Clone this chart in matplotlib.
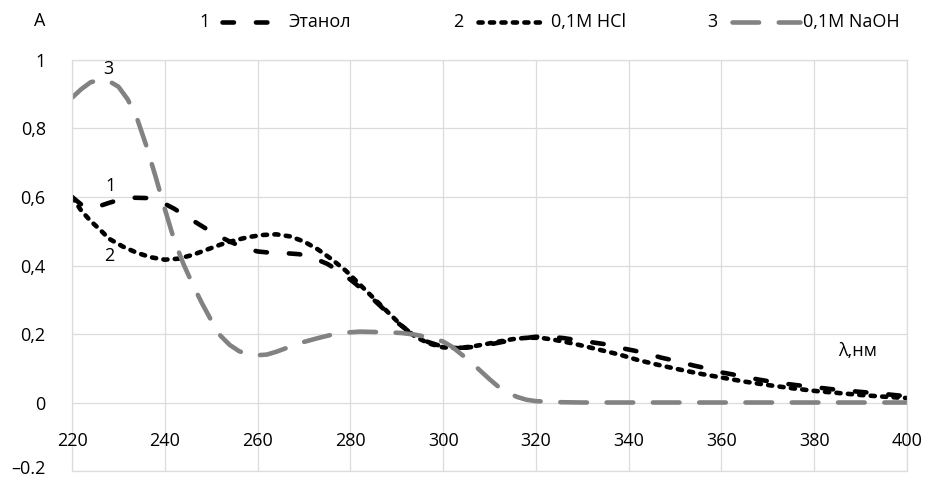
import matplotlib
matplotlib.use("Agg")
import matplotlib.pyplot as plt
import matplotlib.transforms as mtransforms
from matplotlib.lines import Line2D

plt.rcParams["font.family"] = ["Open Sans", "DejaVu Sans"]

# --- data ---
wl_ethanol = [220, 222, 224, 226, 228, 230, 233, 236, 239, 242, 245, 248, 251,
              254, 257, 260, 263, 266, 269, 272, 275, 278, 281, 284, 287, 290,
              293, 296, 299, 302, 305, 308, 311, 314, 317, 320, 323, 326, 329,
              332, 335, 338, 341, 344, 347, 350, 354, 357, 360, 364, 368, 372,
              376, 380, 385, 390, 395, 400]
a_ethanol = [0.600, 0.578, 0.570, 0.574, 0.583, 0.591, 0.598, 0.597, 0.587,
             0.566, 0.540, 0.515, 0.490, 0.470, 0.452, 0.441, 0.437, 0.436,
             0.433, 0.422, 0.405, 0.380, 0.348, 0.313, 0.275, 0.235, 0.203,
             0.180, 0.167, 0.160, 0.160, 0.165, 0.172, 0.180, 0.187, 0.192,
             0.192, 0.188, 0.182, 0.176, 0.170, 0.160, 0.152, 0.143, 0.131,
             0.122, 0.108, 0.099, 0.088, 0.078, 0.067, 0.058, 0.051, 0.045,
             0.037, 0.031, 0.025, 0.018]

wl_hcl = [220, 222, 224, 226, 228, 231, 234, 237, 240, 243, 246, 249, 252, 255,
          258, 261, 264, 267, 270, 273, 276, 279, 282, 285, 288, 291, 294, 297,
          300, 303, 306, 309, 312, 315, 318, 321, 324, 327, 330, 334, 338, 342,
          346, 350, 355, 360, 365, 370, 375, 380, 385, 390, 395, 400]
a_hcl = [0.600, 0.560, 0.530, 0.505, 0.478, 0.455, 0.437, 0.424, 0.417, 0.420,
         0.431, 0.446, 0.461, 0.473, 0.483, 0.489, 0.491, 0.485, 0.470, 0.447,
         0.418, 0.385, 0.345, 0.305, 0.265, 0.225, 0.192, 0.172, 0.161, 0.159,
         0.163, 0.170, 0.178, 0.185, 0.189, 0.189, 0.183, 0.175, 0.166, 0.153,
         0.140, 0.124, 0.111, 0.099, 0.085, 0.073, 0.061, 0.051, 0.042, 0.034,
         0.028, 0.022, 0.017, 0.013]

wl_naoh = [220, 222, 224, 226, 228, 230, 232, 234, 236, 238, 240, 242, 244, 246,
           248, 250, 252, 254, 256, 258, 260, 262, 264, 266, 268, 270, 273, 276,
           279, 282, 285, 288, 291, 294, 297, 300, 302, 304, 306, 308, 310, 312,
           314, 316, 318, 320, 325, 330, 340, 350, 360, 370, 380, 390, 400]
a_naoh = [0.890, 0.915, 0.935, 0.942, 0.938, 0.922, 0.885, 0.830, 0.750, 0.660,
          0.565, 0.475, 0.405, 0.345, 0.290, 0.240, 0.195, 0.168, 0.150, 0.140,
          0.138, 0.140, 0.148, 0.158, 0.167, 0.177, 0.188, 0.198, 0.204, 0.207,
          0.206, 0.205, 0.203, 0.198, 0.190, 0.178, 0.162, 0.140, 0.118, 0.093,
          0.068, 0.045, 0.028, 0.016, 0.008, 0.004, 0.001, 0.0, 0.0, 0.0, 0.0,
          0.0, 0.0, 0.0, 0.0]

x_ticks = [220, 240, 260, 280, 300, 320, 340, 360, 380, 400]
y_ticks = [-0.2, 0, 0.2, 0.4, 0.6, 0.8, 1.0]
y_labels = ["\u20130.2", "0", "0,2", "0,4", "0,6", "0,8", "1"]
legend_nums = ["1", "2", "3"]
legend_names = ["Этанол", "0,1M HCl", "0,1M NaOH"]

# --- styles ---
GRID = "#dcdcdc"
GRAY = "#828282"
LW = 3.3
styles = [
    dict(color="black", dashes=(2.5, 4.8)),
    dict(color="black", dashes=(0.9, 1.6)),
    dict(color=GRAY, dashes=(5.8, 4.3)),
]
FS = 13

fig = plt.figure(figsize=(9.26, 4.78), dpi=100)
ax = fig.add_axes([0.0778, 0.0146, 0.9017, 0.8599])

series = [(wl_ethanol, a_ethanol), (wl_hcl, a_hcl), (wl_naoh, a_naoh)]
for (x, y), st in zip(series, styles):
    ax.plot(x, y, lw=LW, dash_capstyle="round", solid_capstyle="round", **st)

ax.set_xlim(220, 400)
ax.set_ylim(-0.2, 1.0)
ax.set_xticks(x_ticks)
ax.set_xticklabels([])
ax.set_yticks(y_ticks)
ax.set_yticklabels(y_labels, fontsize=FS)
ax.tick_params(length=0, axis="y", pad=19)
ax.tick_params(length=0, axis="x")
ax.grid(True, color=GRID, lw=0.9)
ax.set_axisbelow(True)
for sp in ax.spines.values():
    sp.set_color(GRID)
    sp.set_linewidth(0.9)

# the bottom label hugs the lower edge; nudge it up so it stays whole
fig.canvas.draw()
lowest = ax.get_yticklabels()[0]
lowest.set_transform(lowest.get_transform() +
                     mtransforms.ScaledTranslation(0, 3 / 72, fig.dpi_scale_trans))

# x tick labels sit between 0 and -0.2, as in the original
for xt in x_ticks:
    ax.text(xt, -0.113, str(xt), ha="center", va="center", fontsize=FS)

# curve numbers and axis names
ax.text(228.2, 0.633, "1", ha="center", va="center", fontsize=FS)
ax.text(228.1, 0.427, "2", ha="center", va="center", fontsize=FS)
ax.text(227.8, 0.975, "3", ha="center", va="center", fontsize=FS)
ax.text(389.4, 0.149, "λ,нм", ha="center", va="center", fontsize=FS)
fig.text(40 / 926, 1 - 21 / 478, "A", ha="center", va="center", fontsize=FS)

# hand-made legend in the top strip (figure pixel positions)
W, H = 926, 478
ly = 1 - 22 / H
num_x = [205, 458, 712]
handle_x = [(222, 268), (478, 546), (732, 800)]
name_x = [288, 551, 803]
for i in range(3):
    fig.text(num_x[i] / W, ly, legend_nums[i], ha="center", va="center", fontsize=FS)
    x0, x1 = handle_x[i]
    fig.add_artist(Line2D([x0 / W, x1 / W], [ly, ly], transform=fig.transFigure,
                          lw=LW, dash_capstyle="round", **styles[i]))
    fig.text(name_x[i] / W, ly, legend_names[i], ha="left", va="center", fontsize=FS)

fig.savefig("out.png", dpi=100)
